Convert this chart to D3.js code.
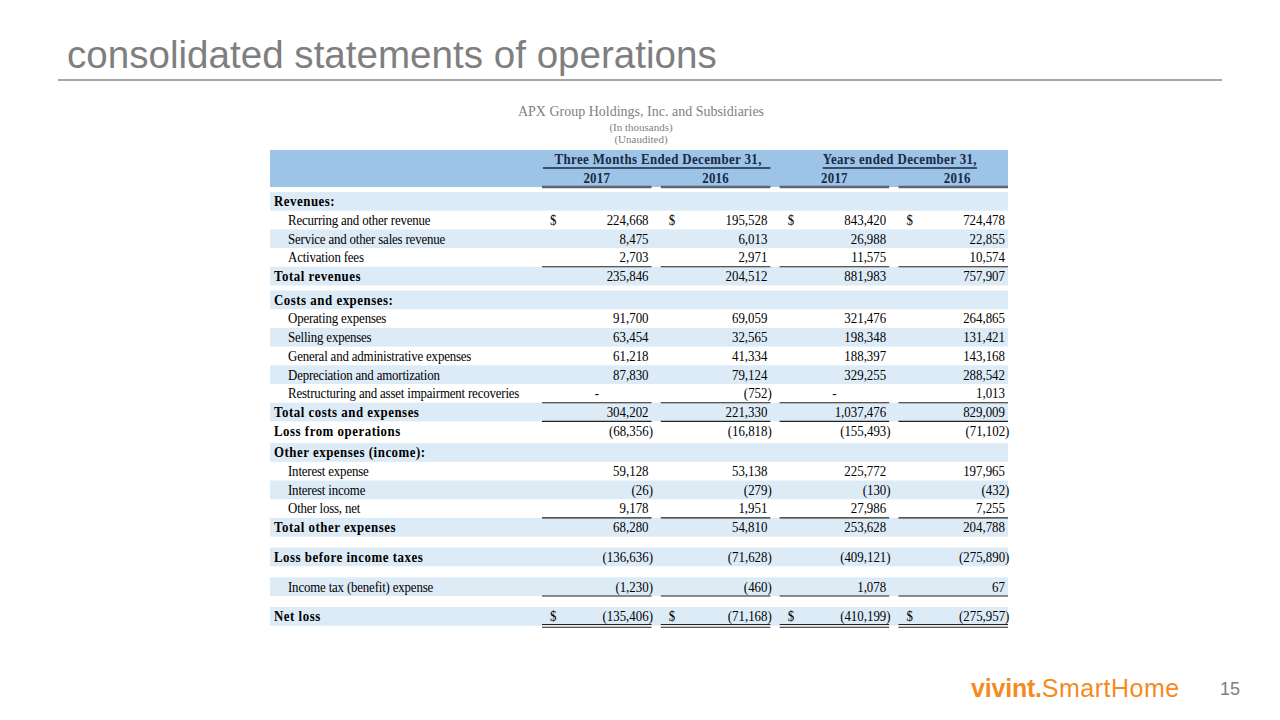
<!DOCTYPE html>
<html>
<head>
<meta charset="utf-8">
<script src="https://cdn.jsdelivr.net/npm/d3@7"></script>
<style>
  html, body { margin: 0; padding: 0; background: #ffffff; }
  svg { display: block; }
</style>
</head>
<body>
<svg id="chart" width="1280" height="720"></svg>
<script>
// ---------- data ----------
const title = "consolidated statements of operations";
const company = "APX Group Holdings, Inc. and Subsidiaries";
const subNotes = ["(In thousands)", "(Unaudited)"];
const periodGroups = ["Three Months Ended December 31,", "Years ended December 31,"];
const columnYears = ["2017", "2016", "2017", "2016"];

const rowLabels = [
  "Revenues:",
  "Recurring and other revenue",
  "Service and other sales revenue",
  "Activation fees",
  "Total revenues",
  "Costs and expenses:",
  "Operating expenses",
  "Selling expenses",
  "General and administrative expenses",
  "Depreciation and amortization",
  "Restructuring and asset impairment recoveries",
  "Total costs and expenses",
  "Loss from operations",
  "Other expenses (income):",
  "Interest expense",
  "Interest income",
  "Other loss, net",
  "Total other expenses",
  "Loss before income taxes",
  "Income tax (benefit) expense",
  "Net loss"
];
// row kind: section header, line item, or total line
const rowKinds = [
  "section","item","item","item","total",
  "section","item","item","item","item","item","total","total",
  "section","item","item","item","total",
  "total","item","total"
];
const q4_2017 = [null, 224668, 8475, 2703, 235846, null, 91700, 63454, 61218, 87830, 0, 304202, -68356, null, 59128, -26, 9178, 68280, -136636, -1230, -135406];
const q4_2016 = [null, 195528, 6013, 2971, 204512, null, 69059, 32565, 41334, 79124, -752, 221330, -16818, null, 53138, -279, 1951, 54810, -71628, -460, -71168];
const fy_2017 = [null, 843420, 26988, 11575, 881983, null, 321476, 198348, 188397, 329255, 0, 1037476, -155493, null, 225772, -130, 27986, 253628, -409121, 1078, -410199];
const fy_2016 = [null, 724478, 22855, 10574, 757907, null, 264865, 131421, 143168, 288542, 1013, 829009, -71102, null, 197965, -432, 7255, 204788, -275890, 67, -275957];

const dollarRows = [1, 20];
const shadedRows = [0, 2, 4, 5, 7, 9, 11, 13, 15, 17, 18, 19, 20];
const singleRuleBelow = [3, 10, 11, 16, 19];
const doubleRuleBelow = [20];
const gapBefore = {5: 5, 13: 3, 18: 11, 19: 11, 20: 11};

const columns = [q4_2017, q4_2016, fy_2017, fy_2016];

// ---------- drawing ----------
const svg = d3.select("#chart");
const serif = "'Liberation Serif', 'Times New Roman', serif";
const sans = "'Liberation Sans', Arial, sans-serif";
const SX = 0.86;      // condensed look of the table type
const FS = 15;

function place(sel, xf, yf) {
  return sel.attr("transform", (d, i) => {
    const xx = typeof xf === "function" ? xf(d, i) : xf;
    const yy = typeof yf === "function" ? yf(d, i) : yf;
    return `translate(${xx},${yy}) scale(${SX},1)`;
  });
}

// title
svg.append("text").attr("x", 67).attr("y", 68)
  .attr("font-family", sans).attr("font-size", 38.6).attr("fill", "#7f7f7f")
  .text(title);
svg.append("line").attr("x1", 58).attr("x2", 1222).attr("y1", 80).attr("y2", 80)
  .attr("stroke", "#a6a6a6").attr("stroke-width", 2);

// subtitle
svg.append("text").attr("x", 641).attr("y", 116).attr("text-anchor", "middle")
  .attr("font-family", serif).attr("font-size", 14).attr("fill", "#7f7f7f").text(company);
svg.selectAll("text.note").data(subNotes).join("text").attr("class", "note")
  .attr("x", 641).attr("y", (d, i) => 131 + i * 11.5).attr("text-anchor", "middle")
  .attr("font-family", serif).attr("font-size", 11).attr("fill", "#7f7f7f").text(d => d);

// table geometry
const tableLeft = 270, tableRight = 1008;
const x = d3.scaleBand().domain(d3.range(4)).range([542, 1008]).paddingInner(0.078);
const rowH = 18.7;
const rowTop = [];
let yCur = 192;
rowLabels.forEach((l, i) => {
  if (gapBefore[i]) yCur += gapBefore[i];
  rowTop.push(yCur);
  yCur += rowH;
});
const base = 14.2;

// header band
svg.append("rect").attr("x", tableLeft).attr("y", 150).attr("width", tableRight - tableLeft).attr("height", 37)
  .attr("fill", "#9dc3e6");

// period group headers
const hdrColor = "#172a45";
const grp = [
  {text: periodGroups[0], cx: (x(0) + x(1) + x.bandwidth()) / 2 + 2, full: true},
  {text: periodGroups[1], cx: (x(2) + x(3) + x.bandwidth()) / 2 + 6, full: false}
];
grp.forEach(g => {
  const t = place(svg.append("text"), g.cx, 163.5).attr("text-anchor", "middle")
    .attr("font-family", serif).attr("font-weight", "bold").attr("font-size", FS)
    .attr("letter-spacing", 0.45).attr("fill", hdrColor).text(g.text);
  let x1, x2;
  if (g.full) { x1 = x(0) + 1; x2 = x(1) + x.bandwidth(); }
  else { const w = t.node().getBBox().width * SX; x1 = g.cx - w / 2; x2 = g.cx + w / 2; }
  svg.append("line").attr("x1", x1).attr("x2", x2).attr("y1", 168).attr("y2", 168)
    .attr("stroke", hdrColor).attr("stroke-width", 1.4);
});

const yearCx = [0, 0, 0, 4];
place(svg.selectAll("text.year").data(columnYears).join("text").attr("class", "year"),
  (d, i) => x(i) + x.bandwidth() / 2 + yearCx[i], 182.5)
  .attr("text-anchor", "middle").attr("font-family", serif).attr("font-weight", "bold")
  .attr("font-size", FS).attr("letter-spacing", 0.3).attr("fill", hdrColor).text(d => d);
svg.selectAll("line.hdr").data(d3.range(4)).join("line").attr("class", "hdr")
  .attr("x1", i => x(i)).attr("x2", i => x(i) + x.bandwidth())
  .attr("y1", 187).attr("y2", 187).attr("stroke", "#5f6670").attr("stroke-width", 2.6);

// row shading
svg.selectAll("rect.shade").data(shadedRows).join("rect").attr("class", "shade")
  .attr("x", tableLeft).attr("y", i => rowTop[i]).attr("width", tableRight - tableLeft)
  .attr("height", rowH).attr("fill", "#ddebf7");

// labels
place(svg.selectAll("text.lbl").data(rowLabels).join("text").attr("class", "lbl"),
  (d, i) => rowKinds[i] === "item" ? 288 : 274, (d, i) => rowTop[i] + base)
  .attr("font-family", serif).attr("font-size", FS)
  .attr("font-weight", (d, i) => rowKinds[i] === "item" ? "normal" : "bold")
  .attr("letter-spacing", (d, i) => rowKinds[i] === "item" ? -0.2 : 0.6)
  .attr("fill", "#000").text(d => d);

// values
const fmt = d3.format(",");
const cells = [];
columns.forEach((col, c) => col.forEach((v, r) => { if (v !== null) cells.push({c, r, v}); }));
place(svg.selectAll("text.val").data(cells).join("text").attr("class", "val"),
  d => d.v === 0 ? x(d.c) + x.bandwidth() / 2 : x(d.c) + x.bandwidth() - 3 + (d.v < 0 ? 4.4 : 0),
  d => rowTop[d.r] + base)
  .attr("text-anchor", d => d.v === 0 ? "middle" : "end")
  .attr("font-family", serif).attr("font-size", FS).attr("fill", "#000")
  .text(d => d.v === 0 ? "-" : d.v < 0 ? "(" + fmt(-d.v) + ")" : fmt(d.v));

// dollar signs
const dollarCells = [];
dollarRows.forEach(r => d3.range(4).forEach(c => dollarCells.push({r, c})));
place(svg.selectAll("text.usd").data(dollarCells).join("text").attr("class", "usd"),
  d => x(d.c) + 8, d => rowTop[d.r] + base)
  .attr("font-family", serif).attr("font-size", FS).attr("fill", "#000").text("$");

// rules
const rules = [];
singleRuleBelow.forEach(r => d3.range(4).forEach(c => rules.push({c, y: rowTop[r] + rowH})));
doubleRuleBelow.forEach(r => d3.range(4).forEach(c => {
  rules.push({c, y: rowTop[r] + rowH - 1.2});
  rules.push({c, y: rowTop[r] + rowH + 1.6});
}));
svg.selectAll("line.rule").data(rules).join("line").attr("class", "rule")
  .attr("x1", d => x(d.c)).attr("x2", d => x(d.c) + x.bandwidth())
  .attr("y1", d => d.y).attr("y2", d => d.y).attr("stroke", "#222").attr("stroke-width", 1.1);

// footer logo and page number
const logo = svg.append("text").attr("x", 971).attr("y", 697)
  .attr("font-family", sans).attr("font-size", 25).attr("fill", "#f58a1f");
logo.append("tspan").attr("font-weight", "bold").attr("letter-spacing", -0.2).text("vivint.");
logo.append("tspan").attr("letter-spacing", 0.5).text("SmartHome");
svg.append("text").attr("x", 1240).attr("y", 695).attr("text-anchor", "end")
  .attr("font-family", sans).attr("font-size", 18).attr("fill", "#7f7f7f").text("15");
</script>
</body>
</html>
